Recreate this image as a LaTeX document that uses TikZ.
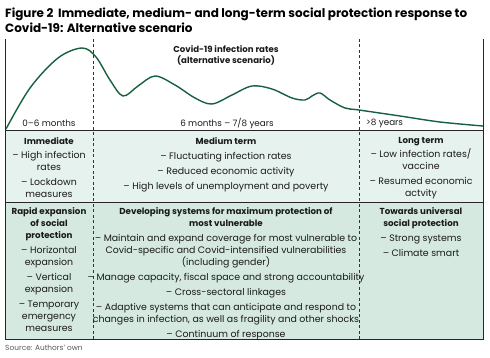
\documentclass[tikz,border=0pt]{standalone}
\usepackage{fontspec}
\setmainfont{Poppins}
\definecolor{curvec}{HTML}{17603F}
\definecolor{rowa}{HTML}{E6F2ED}
\definecolor{rowb}{HTML}{D5E9E1}
\definecolor{txt}{HTML}{1A1A1A}
\newcommand{\hd}[1]{{\fontsize{8.7}{12}\selectfont\bfseries #1}}
\begin{document}
\begin{tikzpicture}[x=1pt,y=-1pt,
  frame/.style={draw=black!85,line width=0.9pt},
  divider/.style={draw=black!80,line width=0.8pt,dash pattern=on 3pt off 2.5pt},
  cell/.style={anchor=north,inner sep=0pt,align=center,text=txt,font=\fontsize{9.4}{12}\selectfont},
  lbl/.style={inner sep=0pt,text=txt,font=\fontsize{8.8}{11}\selectfont},
  ttl/.style={anchor=north west,inner sep=0pt,align=left,font=\fontsize{12}{15}\selectfont\bfseries}]
\useasboundingbox (0,0) rectangle (490,358);
\fill[rowa] (5,130) rectangle (483,202);
\fill[rowb] (5,202) rectangle (483,339);
\draw[frame] (5,39) -- (5,339) -- (483,339) -- (483,39);
\draw[frame] (5,130) -- (483,130);
\draw[frame] (5,202) -- (483,202);
\draw[divider] (93,39) -- (93,339);
\draw[divider] (359,39) -- (359,339);
\draw[curvec,line width=1.4pt] plot[smooth,tension=0.55] coordinates
 {(6,129) (30,88) (58,58) (82,48) (96,57) (110,80) (123,96) (138,86) (155,76) (175,85) (195,98) (212,104) (232,95) (252,86) (272,89) (292,98) (305,100) (312,96) (320,93) (330,100) (345,108) (359,110) (400,116) (440,122) (483,126)};
\node[ttl] (title) at (5,8) {Figure 2\, Immediate, medium- and long-term social protection response to\\Covid-19: Alternative scenario};
\node[lbl,font=\fontsize{8.6}{11}\selectfont\bfseries,align=center] (covid) at (226,55) {Covid-19 infection rates\\(alternative scenario)};
\node[lbl] (t1) at (49,123) {0–6 months};
\node[lbl] (t2) at (227,123) {6 months – 7/8 years};
\node[lbl,anchor=west] (t3) at (366,123) {>8 years};
% row 1
\node[cell] (imm) at (49,137) {\hd{Immediate}\\[2.5pt] – High infection\\ rates\\[2.5pt] – Lockdown\\ measures};
\node[cell] (med) at (226,137) {\hd{Medium term}\\[3pt] – Fluctuating infection rates\\[3pt] – Reduced economic activity\\[3pt] – High levels of unemployment and poverty};
\node[cell] (long) at (421,137) {\hd{Long term}\\[2.5pt] – Low infection rates/\\ vaccine\\[2.5pt] – Resumed economic\\ actvity};
% row 2
\node[cell] (rap) at (49,207.5) {\hd{Rapid expansion}\\ \hd{of social}\\ \hd{protection}\\[3pt] – Horizontal\\ expansion\\[3pt] – Vertical\\ expansion\\[3pt] – Temporary\\ emergency\\ measures};
\node[cell] (dev) at (226,207.5) {\hd{Developing systems for maximum protection of}\\ \hd{most vulnerable}\\[3pt] – Maintain and expand coverage for most vulnerable to\\ Covid-specific and Covid-intensified vulnerabilities\\ (including gender)\\[3pt] – Manage capacity, fiscal space and strong accountability\\[3pt] – Cross-sectoral linkages\\[3pt] – Adaptive systems that can anticipate and respond to\\ changes in infection, as well as fragility and other shocks\\[3pt] – Continuum of response};
\node[cell] (tow) at (421,207.5) {\hd{Towards universal}\\ \hd{social protection}\\[3pt] – Strong systems\\[3pt] – Climate smart};
\node[lbl,anchor=west,text=black!65,font=\fontsize{7.4}{9}\selectfont] (src) at (5,348) {Source: Authors' own};
\end{tikzpicture}
\end{document}
